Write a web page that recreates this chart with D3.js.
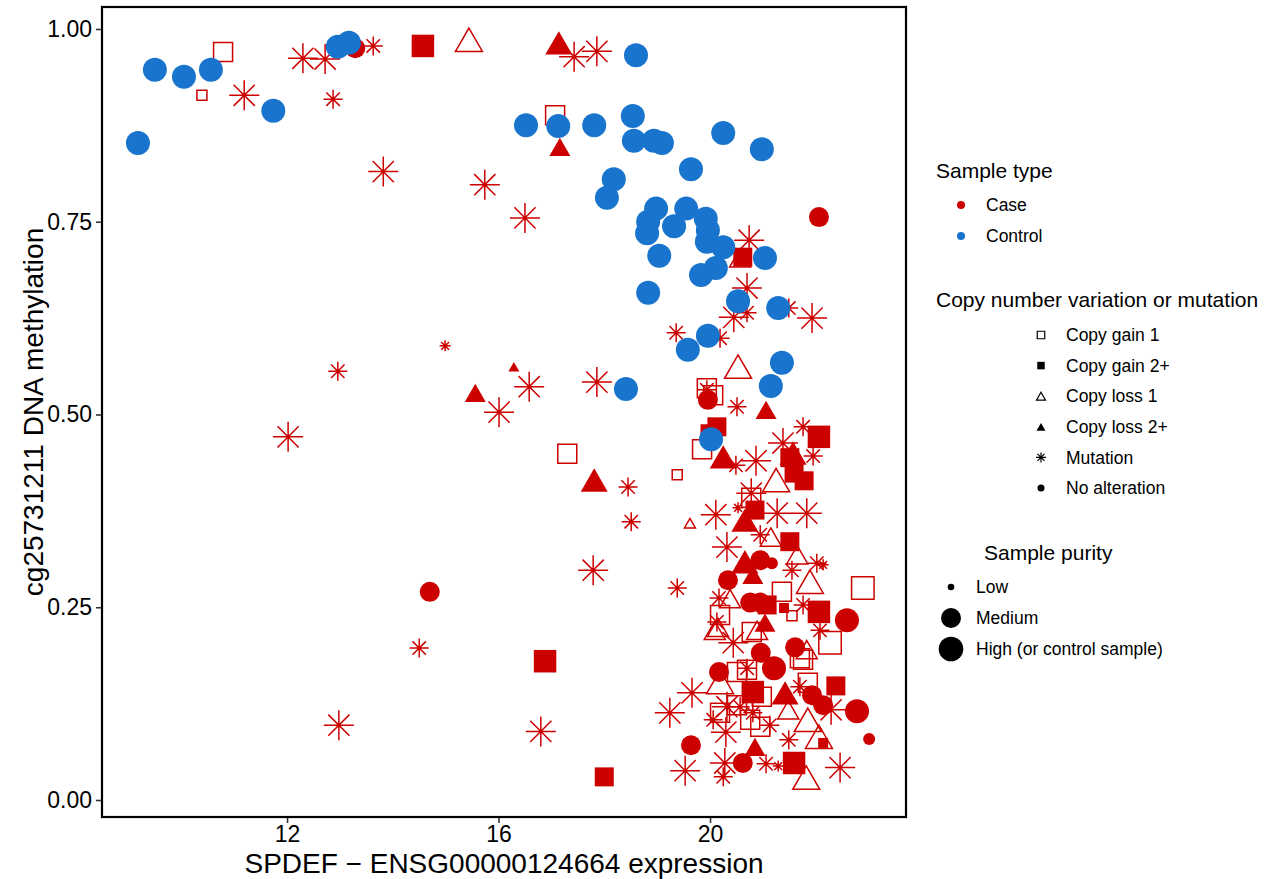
<!DOCTYPE html>
<html>
<head>
<meta charset="utf-8">
<script src="https://cdn.jsdelivr.net/npm/d3@7"></script>
<style>
body { margin: 0; background: #fff; }
text { font-family: "Liberation Sans", Arial, sans-serif; fill: #000; }
</style>
</head>
<body>
<div id="chart"></div>
<script>
// control samples (all high purity, no alteration)
var ctrlExpr = [9.18, 9.50, 10.05, 10.56, 11.74, 12.96, 13.17, 18.60, 16.52, 17.13, 17.81, 18.54, 18.56, 18.94,
  19.09, 20.25, 20.98, 19.64, 18.18, 18.05, 18.98, 18.83, 18.81, 19.55, 19.92, 19.96, 19.94, 19.32, 20.25,
  19.04, 20.11, 19.83, 21.04, 18.83, 20.53, 21.29, 19.96, 19.58, 21.36, 21.15, 18.41, 20.02];
var ctrlMeth = [0.852, 0.947, 0.938, 0.947, 0.894, 0.977, 0.982, 0.966, 0.875, 0.874, 0.875, 0.887, 0.855, 0.855,
  0.852, 0.865, 0.844, 0.818, 0.805, 0.781, 0.767, 0.750, 0.735, 0.767, 0.754, 0.739, 0.724, 0.744, 0.717,
  0.706, 0.690, 0.681, 0.703, 0.658, 0.647, 0.638, 0.602, 0.584, 0.567, 0.537, 0.533, 0.468];

// case samples
var caseExpr = [10.79, 10.39, 11.19, 12.30, 12.72, 12.87, 13.29, 13.63, 14.57, 13.82, 15.44, 17.14, 17.43, 17.86,
  17.07, 17.16, 15.74, 16.50, 12.96, 12.02, 14.99, 16.29, 15.56, 16.58, 16.01, 17.86, 17.30, 17.81, 18.45,
  19.38, 18.51, 17.79, 19.38, 14.70, 14.50, 12.98, 16.88, 16.80, 18.00, 22.06, 20.74, 20.57, 20.62, 20.70,
  20.45, 20.70, 21.49, 21.93, 19.36, 20.19, 20.53, 19.94, 19.94, 20.06, 19.96, 20.51, 21.06, 20.13, 20.00,
  19.85, 20.25, 20.49, 20.87, 21.76, 22.06, 21.38, 21.57, 21.51, 21.95, 21.59, 21.78, 21.25, 19.62, 20.11,
  20.78, 20.78, 20.53, 20.85, 20.66, 21.27, 21.83, 20.95, 21.15, 21.51, 20.32, 20.66, 20.95, 21.17, 20.81,
  21.55, 21.65, 22.02, 22.14, 21.89, 22.89, 20.34, 20.17, 20.38, 20.76, 20.95, 21.08, 21.36, 21.40, 21.55,
  21.76, 22.06, 22.59, 21.04, 20.19, 20.15, 20.79, 20.44, 20.13, 22.08, 22.27, 21.61, 21.83, 20.96, 21.21,
  21.70, 20.70, 20.17, 20.19, 19.66, 19.24, 20.81, 21.42, 21.93, 22.14, 22.29, 22.78, 22.38, 21.85, 21.85,
  22.06, 22.14, 23.01, 19.64, 20.85, 19.53, 20.28, 20.62, 21.06, 21.29, 21.59, 21.82, 22.46, 20.25, 20.32,
  20.06, 20.30, 20.57, 20.81, 20.76, 20.95, 20.19, 21.48, 20.98, 21.13, 20.51, 20.70, 21.70, 21.49, 20.09,
  20.89, 21.76, 20.51];
var caseMeth = [0.970, 0.914, 0.914, 0.962, 0.961, 0.909, 0.975, 0.978, 0.978, 0.815, 0.986, 0.982, 0.964, 0.971,
  0.888, 0.847, 0.798, 0.755, 0.556, 0.471, 0.589, 0.562, 0.528, 0.536, 0.503, 0.542, 0.449, 0.415, 0.406,
  0.422, 0.361, 0.298, 0.275, 0.270, 0.197, 0.097, 0.180, 0.089, 0.030, 0.756, 0.726, 0.703, 0.704, 0.664,
  0.626, 0.632, 0.638, 0.625, 0.606, 0.599, 0.562, 0.534, 0.532, 0.525, 0.519, 0.510, 0.506, 0.484, 0.475,
  0.455, 0.445, 0.434, 0.440, 0.484, 0.471, 0.463, 0.450, 0.444, 0.446, 0.424, 0.414, 0.415, 0.359, 0.370,
  0.398, 0.392, 0.379, 0.376, 0.363, 0.372, 0.372, 0.344, 0.341, 0.335, 0.328, 0.309, 0.311, 0.307, 0.292,
  0.298, 0.318, 0.307, 0.305, 0.283, 0.275, 0.285, 0.262, 0.261, 0.256, 0.256, 0.253, 0.270, 0.249, 0.239,
  0.253, 0.244, 0.233, 0.230, 0.240, 0.224, 0.218, 0.204, 0.231, 0.220, 0.204, 0.198, 0.195, 0.191, 0.171,
  0.184, 0.171, 0.166, 0.153, 0.139, 0.113, 0.140, 0.139, 0.136, 0.123, 0.117, 0.115, 0.148, 0.152, 0.104,
  0.082, 0.074, 0.079, 0.071, 0.069, 0.038, 0.048, 0.048, 0.047, 0.044, 0.048, 0.029, 0.042, 0.030, 0.121,
  0.104, 0.088, 0.121, 0.113, 0.104, 0.095, 0.113, 0.117, 0.134, 0.097, 0.166, 0.169, 0.147, 0.078, 0.220,
  0.220, 0.182, 0.123];
var caseAlt = ["g1", "g1", "mut", "mut", "mut", "mut", "none", "mut", "g2", "mut", "l1", "l2", "mut", "mut",
  "g1", "l2", "mut", "mut", "mut", "mut", "mut", "l2", "l2", "mut", "mut", "mut", "g1", "l2", "mut",
  "g1", "mut", "mut", "mut", "none", "mut", "mut", "g2", "mut", "g2", "none", "mut", "l1", "g2", "mut",
  "mut", "mut", "mut", "mut", "mut", "mut", "l1", "g1", "mut", "g1", "none", "mut", "l2", "g2", "g2",
  "g1", "l2", "mut", "mut", "mut", "g2", "mut", "l2", "g2", "mut", "g2", "g2", "l1", "l1", "mut",
  "mut", "g1", "mut", "g2", "l2", "mut", "mut", "mut", "l1", "g2", "mut", "l2", "none", "none", "l2",
  "mut", "l1", "mut", "mut", "l1", "g1", "none", "mut", "l1", "none", "none", "g2", "g1", "g2", "g1",
  "mut", "g2", "none", "l2", "g1", "l1", "g1", "mut", "mut", "mut", "g1", "none", "l1", "none", "none",
  "g1", "mut", "none", "l1", "mut", "mut", "g2", "l2", "none", "none", "mut", "none", "g2", "g1", "l1",
  "l1", "g2", "none", "none", "l2", "mut", "mut", "none", "mut", "mut", "g2", "l1", "mut", "mut", "mut",
  "mut", "mut", "mut", "mut", "g1", "g1", "g1", "l1", "g1", "mut", "g1", "g1", "mut", "mut", "l1",
  "l1", "g1", "g1"];
var casePurity = ["M", "L", "H", "H", "H", "M", "M", "M", "H", "H", "H", "H", "H", "H",
  "M", "M", "H", "H", "M", "H", "L", "L", "M", "H", "H", "H", "M", "H", "M",
  "L", "M", "H", "M", "M", "M", "H", "H", "H", "M", "M", "H", "M", "M", "H",
  "H", "M", "M", "H", "M", "M", "H", "M", "M", "M", "M", "M", "M", "M", "M",
  "M", "H", "M", "H", "M", "H", "H", "H", "M", "M", "M", "M", "H", "L", "H",
  "H", "M", "L", "M", "H", "H", "H", "M", "M", "M", "H", "H", "M", "L", "M",
  "M", "M", "M", "L", "H", "H", "M", "M", "M", "M", "M", "M", "M", "L", "L",
  "M", "H", "H", "M", "M", "M", "M", "H", "M", "M", "H", "M", "M", "M", "H",
  "M", "M", "M", "H", "H", "H", "H", "H", "M", "M", "H", "H", "M", "M", "H",
  "H", "L", "L", "M", "M", "H", "H", "M", "M", "L", "H", "H", "H", "M", "H",
  "M", "H", "M", "M", "M", "M", "M", "M", "M", "M", "M", "M", "M", "M", "M",
  "M", "M", "M"];

var xTicks = [12, 16, 20];
var yTicks = [0, 0.25, 0.5, 0.75, 1];
var sampleTypes = ["Case", "Control"];
var altCodes = ["g1", "g2", "l1", "l2", "mut", "none"];
var altLabels = ["Copy gain 1", "Copy gain 2+", "Copy loss 1", "Copy loss 2+", "Mutation", "No alteration"];
var purityCodes = ["L", "M", "H"];
var purityLabels = ["Low", "Medium", "High (or control sample)"];

var width = 1270, height = 879;
var panelL = 102, panelR = 906, panelT = 7, panelB = 817;
var caseColor = "#CD0000", ctrlColor = "#1874CD";

var svg = d3.select("#chart").append("svg")
    .attr("width", width)
    .attr("height", height);

var x = d3.scaleLinear().domain([8.5, 23.707]).range([panelL, panelR]);
var y = d3.scaleLinear().domain([-0.02205, 1.0285]).range([panelB, panelT]);

// size of each shape for each purity level
var sizes = {
  none: { L: 6, M: 10, H: 12 },
  g1: { L: 10, M: 19, H: 22.5 },
  g2: { L: 10, M: 19, H: 22.5 },
  l1: { L: 11, M: 21, H: 27 },
  l2: { L: 11, M: 21, H: 27 },
  mut: { L: 5.5, M: 9.5, H: 15 }
};
var filled = { none: true, g1: false, g2: true, l1: false, l2: true, mut: false };

function shapePath(kind, s) {
  if (kind == "none") {
    return "M" + s + ",0A" + s + "," + s + " 0 1,1 " + (-s) + ",0A" + s + "," + s + " 0 1,1 " + s + ",0Z";
  }
  if (kind == "g1" || kind == "g2") {
    var h = s / 2;
    return "M" + (-h) + "," + (-h) + "H" + h + "V" + h + "H" + (-h) + "Z";
  }
  if (kind == "l1" || kind == "l2") {
    var th = s * Math.sqrt(3) / 2;
    return "M0," + (-th / 2) + "L" + (s / 2) + "," + (th / 2) + "L" + (-s / 2) + "," + (th / 2) + "Z";
  }
  var d = s / Math.SQRT2;
  return "M" + (-s) + ",0H" + s + "M0," + (-s) + "V" + s +
    "M" + (-d) + "," + (-d) + "L" + d + "," + d + "M" + (-d) + "," + d + "L" + d + "," + (-d);
}

var caseData = caseExpr.map(function(v, i) {
  return { expr: v, meth: caseMeth[i], alt: caseAlt[i], purity: casePurity[i] };
});
// outlines first, filled shapes on top
var caseSorted = caseData.filter(function(d) { return !filled[d.alt]; })
  .concat(caseData.filter(function(d) { return filled[d.alt]; }));
var ctrlData = ctrlExpr.map(function(v, i) {
  return { expr: v, meth: ctrlMeth[i], alt: "none", purity: "H" };
});

var plot = svg.append("g");

plot.selectAll(".case")
  .data(caseSorted)
  .enter()
  .append("path")
  .attr("class", "case")
  .attr("transform", function(d) { return "translate(" + x(d.expr) + "," + y(d.meth) + ")"; })
  .attr("d", function(d) { return shapePath(d.alt, sizes[d.alt][d.purity]); })
  .style("fill", function(d) { return filled[d.alt] ? caseColor : "none"; })
  .style("stroke", caseColor)
  .style("stroke-width", function(d) { return filled[d.alt] ? 0 : 1.5; });

plot.selectAll(".ctrl")
  .data(ctrlData)
  .enter()
  .append("path")
  .attr("class", "ctrl")
  .attr("transform", function(d) { return "translate(" + x(d.expr) + "," + y(d.meth) + ")"; })
  .attr("d", function(d) { return shapePath("none", sizes.none.H); })
  .style("fill", ctrlColor);

// panel border
svg.append("rect")
  .attr("x", panelL).attr("y", panelT)
  .attr("width", panelR - panelL).attr("height", panelB - panelT)
  .style("fill", "none")
  .style("stroke", "#000")
  .style("stroke-width", 2.2);

// axes
var xAxis = svg.append("g")
  .attr("transform", "translate(0," + (panelB + 1) + ")")
  .call(d3.axisBottom(x).tickValues(xTicks).tickSize(5).tickPadding(3).tickFormat(d3.format("d")));
var yAxis = svg.append("g")
  .attr("transform", "translate(" + (panelL - 1) + ",0)")
  .call(d3.axisLeft(y).tickValues(yTicks).tickSize(5).tickPadding(4).tickFormat(d3.format(".2f")));
[xAxis, yAxis].forEach(function(a) {
  a.select(".domain").remove();
  a.selectAll("line").style("stroke", "#333").style("stroke-width", 1.6);
  a.selectAll("text").style("font-size", "23px").style("fill", "#000")
    .style("font-family", "'Liberation Sans', Arial, sans-serif");
});

svg.append("text")
  .attr("x", (panelL + panelR) / 2).attr("y", 873)
  .attr("text-anchor", "middle")
  .style("font-size", "28px")
  .text("SPDEF \u2212 ENSG00000124664 expression");

svg.append("text")
  .attr("transform", "translate(43," + ((panelT + panelB) / 2) + ")rotate(-90)")
  .attr("text-anchor", "middle")
  .style("font-size", "28px")
  .text("cg25731211 DNA methylation");

// legends
var lg = svg.append("g");
lg.append("text").attr("x", 936).attr("y", 171).attr("dy", "0.35em")
  .style("font-size", "21px").text("Sample type");
sampleTypes.forEach(function(t, i) {
  var yy = 205 + i * 31;
  lg.append("circle").attr("cx", 961).attr("cy", yy).attr("r", 4)
    .style("fill", i == 0 ? caseColor : ctrlColor);
  lg.append("text").attr("x", 986).attr("y", yy).attr("dy", "0.35em")
    .style("font-size", "17.5px").text(t);
});

lg.append("text").attr("x", 936).attr("y", 300).attr("dy", "0.35em")
  .style("font-size", "21px").text("Copy number variation or mutation");
var legendShapeSize = { none: 3.5, g1: 7.5, g2: 7.5, l1: 9, l2: 9, mut: 5 };
altCodes.forEach(function(c, i) {
  var yy = 335 + i * 30.6;
  lg.append("path")
    .attr("transform", "translate(1041," + yy + ")")
    .attr("d", shapePath(c, legendShapeSize[c]))
    .style("fill", filled[c] ? "#000" : "none")
    .style("stroke", "#000")
    .style("stroke-width", filled[c] ? 0 : 1.2);
  lg.append("text").attr("x", 1066).attr("y", yy).attr("dy", "0.35em")
    .style("font-size", "17.5px").text(altLabels[i]);
});

lg.append("text").attr("x", 984).attr("y", 553).attr("dy", "0.35em")
  .style("font-size", "21px").text("Sample purity");
var legendPurityR = [3.3, 10, 12.3];
purityCodes.forEach(function(c, i) {
  var yy = 587 + i * 31;
  lg.append("circle").attr("cx", 951).attr("cy", yy).attr("r", legendPurityR[i])
    .style("fill", "#000");
  lg.append("text").attr("x", 976).attr("y", yy).attr("dy", "0.35em")
    .style("font-size", "17.5px").text(purityLabels[i]);
});
</script>
</body>
</html>
